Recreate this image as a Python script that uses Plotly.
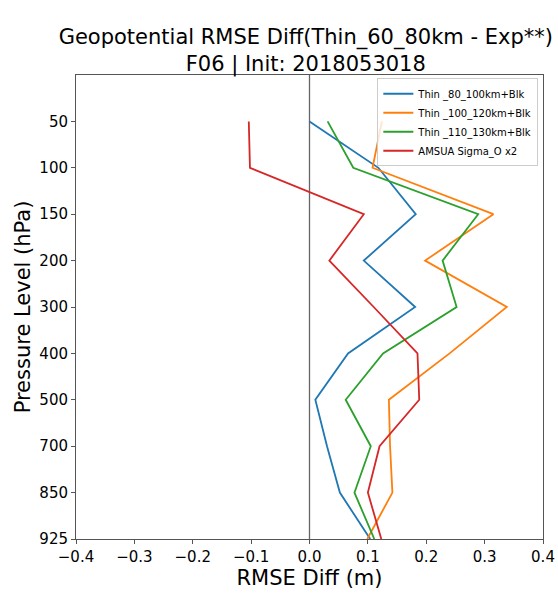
import plotly.graph_objects as go

levels = [50, 100, 150, 200, 300, 400, 500, 700, 850, 925]
level_labels = [str(v) for v in levels]
series_names = ["Thin _80_100km+Blk", "Thin _100_120km+Blk", "Thin _110_130km+Blk", "AMSUA Sigma_O x2"]
blue = [0.0, 0.118, 0.182, 0.093, 0.181, 0.066, 0.010, 0.030, 0.052, 0.104]
orange = [0.124, 0.108, 0.315, 0.198, 0.338, 0.240, 0.136, 0.138, 0.142, 0.099]
green = [0.031, 0.075, 0.289, 0.228, 0.252, 0.126, 0.062, 0.105, 0.077, 0.111]
red = [-0.104, -0.102, 0.093, 0.034, 0.110, 0.185, 0.188, 0.120, 0.100, 0.123]
colors = ["#1f77b4", "#ff7f0e", "#2ca02c", "#d62728"]
x_ticks = [-0.4, -0.3, -0.2, -0.1, 0.0, 0.1, 0.2, 0.3, 0.4]
x_tick_labels = ["\u22120.4", "\u22120.3", "\u22120.2", "\u22120.1", "0.0", "0.1", "0.2", "0.3", "0.4"]

idx = list(range(len(levels)))
fig = go.Figure()
# zero line
fig.add_trace(go.Scatter(x=[0, 0], y=[-1, len(levels) - 1], mode="lines",
                         line=dict(color="#666666", width=1.3), showlegend=False, hoverinfo="skip"))
for name, vals, c in zip(series_names, [blue, orange, green, red], colors):
    fig.add_trace(go.Scatter(x=vals, y=idx, mode="lines", name=name,
                             line=dict(color=c, width=1.8)))

fig.update_layout(
    width=558, height=604,
    margin=dict(l=76, r=15, t=75, b=65, autoexpand=False),
    paper_bgcolor="white", plot_bgcolor="white",
    font=dict(family="DejaVu Sans", color="black"),
    title=dict(text="Geopotential RMSE Diff(Thin_60_80km - Exp**)<br>F06 | Init: 2018053018",
               x=0.548, xanchor="center", y=0.927, yanchor="top",
               font=dict(size=21, family="DejaVu Sans")),
    legend=dict(x=0.99, y=0.993, xanchor="right", yanchor="top",
                bgcolor="rgba(255,255,255,0.8)", bordercolor="#cccccc", borderwidth=1,
                font=dict(size=10), tracegroupgap=0, itemwidth=30),
    xaxis=dict(range=[-0.4, 0.4], tickvals=x_ticks, ticktext=x_tick_labels,
               showgrid=False, zeroline=False, showline=True, linecolor="#555555",
               linewidth=1, mirror=True, ticks="outside", ticklen=4, tickcolor="#555555",
               tickfont=dict(size=15), automargin=False,
               title=dict(text="RMSE Diff (m)", font=dict(size=21), standoff=2)),
    yaxis=dict(range=[len(levels) - 1, -1], tickvals=idx, ticktext=level_labels,
               showgrid=False, zeroline=False, showline=True, linecolor="#555555",
               linewidth=1, mirror=True, ticks="outside", ticklen=4, tickcolor="#555555",
               tickfont=dict(size=15), automargin=False,
               title=dict(text="Pressure Level (hPa)", font=dict(size=21), standoff=3)),
)
fig.write_html("out.html")
